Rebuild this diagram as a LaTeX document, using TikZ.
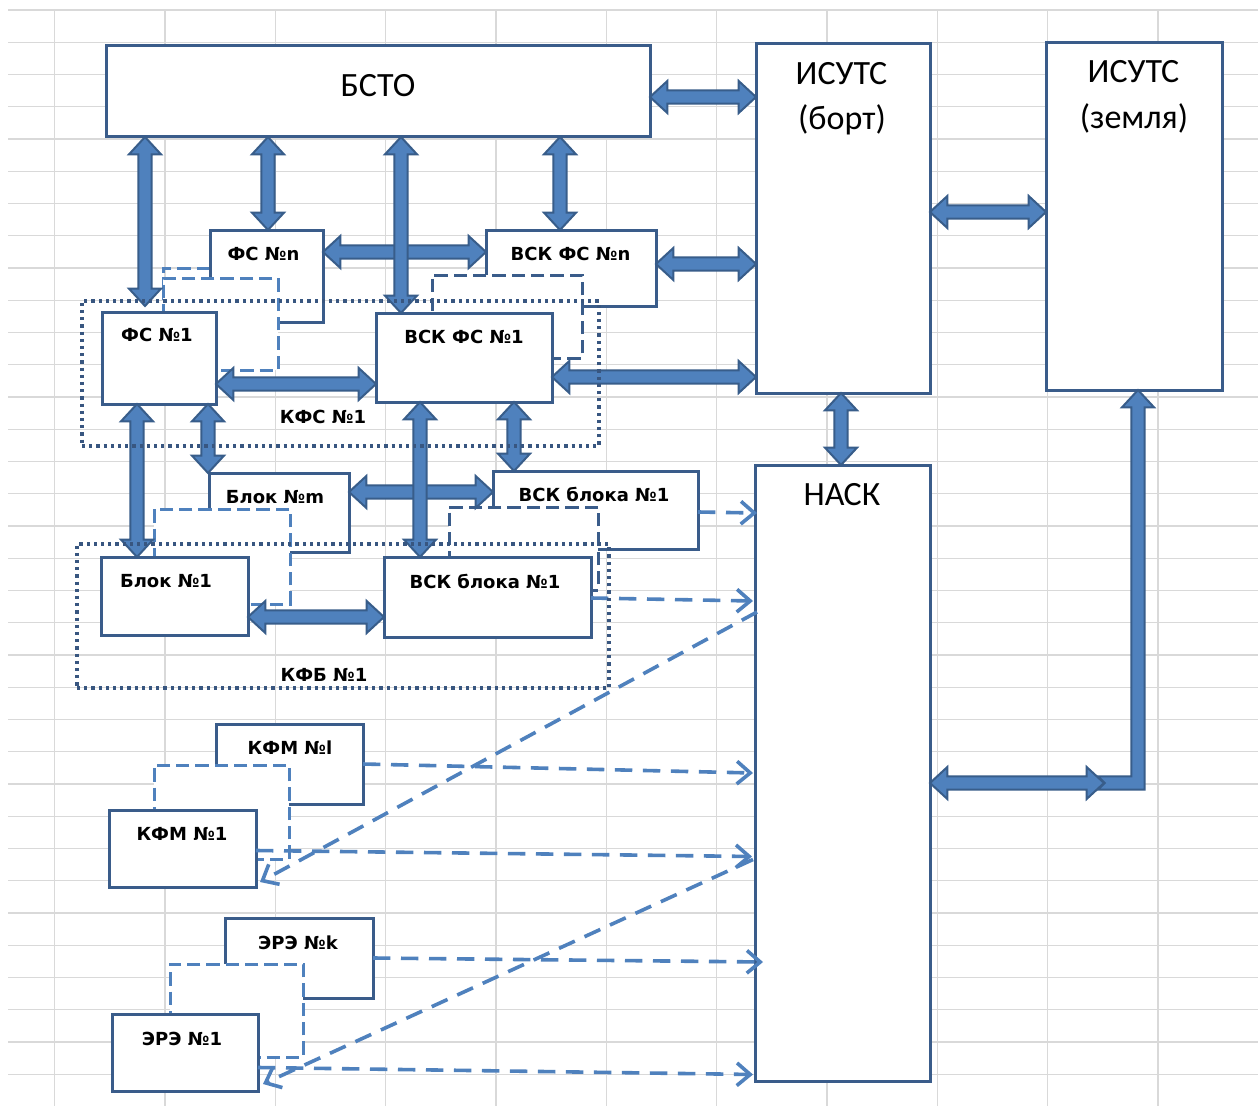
\documentclass[tikz,border=0pt]{standalone}
\usepackage{fontspec}
\newfontfamily\lblfont{DejaVu Sans}
\newfontfamily\bigfont{Carlito}
\usetikzlibrary{calc,fit,arrows.meta}
\definecolor{gridc}{RGB}{217,217,217}
\definecolor{boxc}{RGB}{58,92,138}
\definecolor{arrfill}{RGB}{79,129,189}
\definecolor{arrline}{RGB}{56,93,138}
\definecolor{dashc}{RGB}{79,129,189}
\definecolor{dotc}{RGB}{56,86,128}
\newcommand\arHL{13pt}
\newcommand\arHW{12pt}
\newcommand\arSW{5pt}
\begin{document}
\begin{tikzpicture}[x=0.75pt, y=-0.75pt,
  gridln/.style={draw=gridc, line width=1pt},
  boxst/.style={draw=boxc, line width=2.25pt, fill=white, inner sep=0pt, outer sep=0pt},
  dashbox/.style={draw=dashc, line width=2.25pt, dash pattern=on 10pt off 4.5pt, fill=white, inner sep=0pt, outer sep=0pt},
  dashboxdk/.style={dashbox, draw=boxc},
  dashline/.style={draw=dashc, line width=2.25pt, dash pattern=on 10pt off 4.5pt},
  dotbox/.style={draw=dotc, line width=2.4pt, dash pattern=on 2.4pt off 3pt, inner sep=0pt, outer sep=0pt},
  lbl/.style={font=\lblfont\bfseries\fontsize{13.5pt}{16pt}\selectfont, anchor=base, inner sep=0pt},
  biglbl/.style={font=\bigfont\fontsize{25.5pt}{30pt}\selectfont, anchor=base, inner sep=0pt},
  dasharr/.style={draw=dashc, line width=2.7pt, dash pattern=on 13pt off 8pt, -{Straight Barb[length=10pt,width=17pt]}},
  bigfill/.style={draw=arrline, fill=arrfill, line width=1.5pt, line join=miter},
  bigarr/.style={bigfill, to path={
    let \p1=(\tikztostart), \p2=(\tikztotarget) in
    (\p1) -- ($(\p1)!\arHL!(\p2)!\arHW!90:(\p2)$) -- ($(\p1)!\arHL!(\p2)!\arSW!90:(\p2)$)
    -- ($(\p2)!\arHL!(\p1)!\arSW!-90:(\p1)$) -- ($(\p2)!\arHL!(\p1)!\arHW!-90:(\p1)$)
    -- (\p2) -- ($(\p2)!\arHL!(\p1)!\arHW!90:(\p1)$) -- ($(\p2)!\arHL!(\p1)!\arSW!90:(\p1)$)
    -- ($(\p1)!\arHL!(\p2)!\arSW!-90:(\p2)$) -- ($(\p1)!\arHL!(\p2)!\arHW!-90:(\p2)$) -- cycle}}
]
\useasboundingbox (0,0) rectangle (1258,1106);
\fill[white] (0,0) rectangle (1258,1106);
% spreadsheet grid
\foreach \k in {0,...,34} {\draw[gridln] (8,{10+32.25*\k}) -- (1258,{10+32.25*\k});}
\foreach \k in {0,...,10} {\draw[gridln] ({54.5+110.35*\k},10) -- ({54.5+110.35*\k},1106);}

% main boxes
\node[boxst, fit={(106,46) (650,137)}] (bsto) {};
\node[boxst, fit={(756,44) (930,393)}] (isb) {};
\node[boxst, fit={(1046,43) (1222,390)}] (isz) {};
\node[boxst, fit={(755,465) (930,1081)}] (nask) {};

% FS group
\draw[dashline] (210,268) -- (163,268) -- (163,300);
\node[boxst, fit={(210,230) (323,322)}] (fsn) {};
\node[dashbox, fit={(163,278) (278,370)}] (dfs) {};
\node[boxst, fit={(102,312) (216,404)}] (fsone) {};

% VSK FS group
\node[boxst, fit={(486,230) (656,306)}] (vfsn) {};
\node[dashboxdk, fit={(432,275) (582,358)}] (dvfs) {};
\node[boxst, fit={(376,313) (552,402)}] (vfs1) {};

% Blok group
\node[boxst, fit={(209,473) (349,552)}] (blkm) {};
\node[dashbox, fit={(154,509) (290,604)}] (dblk) {};
\node[boxst, fit={(101,557) (248,635)}] (blk1) {};

% VSK bloka group
\node[boxst, fit={(493,471) (698,549)}] (vbu) {};
\node[dashboxdk, fit={(449,507) (598,590)}] (dvb) {};
\node[boxst, fit={(384,557) (591,637)}] (vb1) {};

% KFM group
\node[boxst, fit={(216,724) (363,804)}] (kfml) {};
\node[dashbox, fit={(154,765) (289,859)}] (dkfm) {};
\node[boxst, fit={(109,810) (256,887)}] (kfm1) {};

% ERE group
\node[boxst, fit={(225,918) (373,998)}] (erek) {};
\node[dashbox, fit={(170,964) (303,1057)}] (dere) {};
\node[boxst, fit={(112,1014) (258,1091)}] (ere1) {};

% labels
\node[biglbl] (tbsto) at (378,97) {БСТО};
\node[biglbl] (tisb1) at (841.5,85) {ИСУТС};
\node[biglbl] (tisb2) at (842,130) {(борт)};
\node[biglbl] (tisz1) at (1133.5,83) {ИСУТС};
\node[biglbl] (tisz2) at (1134,128) {(земля)};
\node[biglbl] (tnask) at (842,505) {НАСК};
\node[lbl] (tfsn) at (263.5,260) {ФС №n};
\node[lbl] (tfs1) at (157,341) {ФС №1};
\node[lbl] (tvfsn) at (570.5,260) {ВСК ФС №n};
\node[lbl] (tvfs1) at (464,343) {ВСК ФС №1};
\node[lbl] (tkfs) at (323,423) {КФС №1};
\node[lbl] (tblkm) at (275,503) {Блок №m};
\node[lbl] (tblk1) at (166,587) {Блок №1};
\node[lbl] (tkfb) at (324,681) {КФБ №1};
\node[lbl] (tvbu) at (594,501) {ВСК блока №1};
\node[lbl] (tvb1) at (485,588) {ВСК блока №1};
\node[lbl] (tkfml) at (290,754) {КФМ №l};
\node[lbl] (tkfm1) at (182,840) {КФМ №1};
\node[lbl] (terek) at (298,949) {ЭРЭ №k};
\node[lbl] (tere1) at (182,1045) {ЭРЭ №1};

% connector positions
\coordinate (xA) at (145,0);
\coordinate (xB) at (268,0);
\coordinate (xC) at (401,0);
\coordinate (xD) at (560,0);
\coordinate (xE) at (841,0);
\coordinate (xF) at (137,0);
\coordinate (xG) at (208,0);
\coordinate (xH) at (420,0);
\coordinate (xI) at (514,0);
\coordinate (yA) at (0,97);
\coordinate (yB) at (0,212);
\coordinate (yC) at (0,264);
\coordinate (yD) at (0,377);
\coordinate (yE) at (0,252);
\coordinate (yF) at (0,384);
\coordinate (yG) at (0,492);
\coordinate (yH) at (0,617);
\coordinate (yI) at (0,783);
\coordinate (ltail) at (1098,783);
\coordinate (lbend) at (1138,783);

% thick double arrows: horizontal
\path[bigarr] (bsto.east |- yA) to (isb.west |- yA);
\path[bigarr] (isb.east |- yB) to (isz.west |- yB);
\path[bigarr] (vfsn.east |- yC) to (isb.west |- yC);
\path[bigarr] (vfs1.east |- yD) to (isb.west |- yD);
\path[bigarr] (fsn.east |- yE) to (vfsn.west |- yE);
\path[bigarr] (fsone.east |- yF) to (vfs1.west |- yF);
\path[bigarr] (blkm.east |- yG) to (vbu.west |- yG);
\path[bigarr] (blk1.east |- yH) to (vb1.west |- yH);
% thick double arrows: vertical
\path[bigarr] (bsto.south -| xA) to ($(fsone.north -| xA)+(0,-6)$);
\path[bigarr] (bsto.south -| xB) to (fsn.north -| xB);
\path[bigarr] (bsto.south -| xC) to (vfs1.north -| xC);
\path[bigarr] (bsto.south -| xD) to (vfsn.north -| xD);
\path[bigarr] (isb.south -| xE) to (nask.north -| xE);
\path[bigarr] (fsone.south -| xF) to (blk1.north -| xF);
\path[bigarr] (fsone.south -| xG) to (blkm.north -| xG);
\path[bigarr] (vfs1.south -| xH) to (vb1.north -| xH);
\path[bigarr] (vfs1.south -| xI) to (vbu.north -| xI);
% L-shaped arrow to ISUTS (zemlya)
\path[bigfill] let \p1=(ltail), \p2=(lbend), \p3=(lbend |- isz.south) in
  (\x1,\y1+\arSW) -- (\x2-\arSW,\y1+\arSW) -- (\x2-\arSW,\y3-\arHL) -- (\x2-\arHW,\y3-\arHL)
  -- (\x2,\y3) -- (\x2+\arHW,\y3-\arHL) -- (\x2+\arSW,\y3-\arHL) -- (\x2+\arSW,\y1-\arSW)
  -- (\x1,\y1-\arSW) -- (\x1+5pt,\y1) -- cycle;
\path[bigarr] (nask.east |- yI) to ($(ltail)+(6,0)$);

% dashed arrows
\draw[dasharr] ($(vbu.east)+(0,2)$) -- ($(nask.west |- vbu.east)+(2,3)$);
\draw[dasharr] ($(vb1.east)+(0,1)$) -- ($(nask.west |- vb1.east)+(-2,4)$);
\draw[dasharr] ($(nask.west |- vb1.east)+(2,15)$) -- ($(kfm1.south east)+(4,-5)$);
\draw[dasharr] (kfml.east) -- ($(nask.west |- kfml.east)+(-2,9)$);
\draw[dasharr] ($(kfm1.east)+(0,2)$) -- ($(nask.west |- kfm1.east)+(-3,8)$);
\draw[dasharr] ($(nask.west |- kfm1.east)+(-2,11)$) -- ($(ere1.south east)+(5,-7)$);
\draw[dasharr] (erek.east) -- ($(nask.west |- erek.east)+(8,4)$);
\draw[dasharr] ($(ere1.east)+(0,15)$) -- ($(nask.west |- ere1.east)+(-2,22)$);

% dotted group frames
\node[dotbox, fit={(82,301) (599,446)}] (kfs) {};
\node[dotbox, fit={(77,544) (609,688)}] (kfb) {};
\end{tikzpicture}
\end{document}
